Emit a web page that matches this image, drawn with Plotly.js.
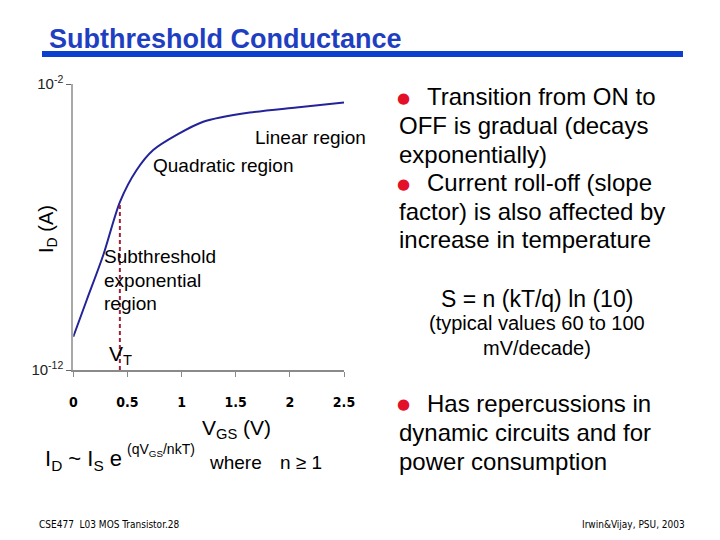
<!DOCTYPE html>
<html>
<head>
<meta charset="utf-8">
<script src="https://cdn.plot.ly/plotly-3.0.1.min.js"></script>
<style>html,body{margin:0;padding:0;background:#fff;}#chart{width:720px;height:540px;}</style>
</head>
<body>
<div id="chart"></div>
<script>
// ---- data ----
const vgs = [0, 0.124, 0.277, 0.431, 0.585, 0.738, 0.954, 1.20, 1.63, 2.06, 2.5];
const idAmps = [1.45e-11, 2.8e-10, 1.05e-8, 7.6e-7, 9.8e-6, 4.9e-5, 1.66e-4, 4.8e-4, 1.0e-3, 1.51e-3, 2.24e-3];
const vtX = [0.43, 0.43];
const vtY = [1e-12, 7.6e-7];
const xTickVals = [0, 0.5, 1, 1.5, 2, 2.5];
const xTickText = ['0', '0.5', '1', '1.5', '2', '2.5'];
const yTickVals = [1e-12, 1e-2];
const yTickText = ['10<sup>-12</sup>', '10<sup>-2</sup>'];
const titleText = 'Subthreshold Conductance';
const bulletLines = [
  'Transition from ON to', 'OFF is gradual (decays', 'exponentially)',
  'Current roll-off (slope', 'factor) is also affected by', 'increase in temperature'
];
const bottomLines = ['Has repercussions in', 'dynamic circuits and for', 'power consumption'];

const W = 720, H = 540;
const FONT = 'Arial, "Liberation Sans", sans-serif';
const NARROW = '"Liberation Sans Narrow", "Arial Narrow", "DejaVu Sans Condensed", sans-serif';
const px = x => x / W;
const py = y => 1 - y / H;
function ann(text, x, y, size, o) {
  o = o || {};
  return {
    text: text, xref: 'paper', yref: 'paper', x: px(x), y: py(y),
    xanchor: o.xa || 'left', yanchor: 'middle', showarrow: false,
    textangle: o.angle || 0,
    font: {family: o.family || FONT, size: size, color: o.color || '#000', weight: o.weight || 'normal'}
  };
}

const RED = '#e3102a';
const annotations = [
  ann(titleText, 47, 39, 27, {weight: 'bold', color: '#1f3fc2'}),
  // right side text
  ann('●', 403, 98, 15, {xa: 'center', color: RED, family: '"DejaVu Sans", sans-serif'}),
  ann(bulletLines[0], 425, 97, 24),
  ann(bulletLines[1], 397, 125, 24),
  ann(bulletLines[2], 397, 154, 24),
  ann('●', 403, 184, 15, {xa: 'center', color: RED, family: '"DejaVu Sans", sans-serif'}),
  ann(bulletLines[3], 425, 182, 24),
  ann(bulletLines[4], 397, 211, 24),
  ann(bulletLines[5], 397, 239, 24),
  ann('S = n (kT/q) ln (10)', 537, 299, 23, {xa: 'center'}),
  ann('(typical values 60 to 100', 537, 323, 20, {xa: 'center'}),
  ann('mV/decade)', 537, 348, 20, {xa: 'center'}),
  ann('●', 403, 404, 15, {xa: 'center', color: RED, family: '"DejaVu Sans", sans-serif'}),
  ann(bottomLines[0], 425, 403, 24),
  ann(bottomLines[1], 397, 432, 24),
  ann(bottomLines[2], 397, 461, 24),
  // in-plot labels
  ann('Linear region', 368, 137, 19, {xa: 'right'}),
  ann('Quadratic region', 151, 165, 19),
  ann('Subthreshold', 102, 257, 19),
  ann('exponential', 102, 280, 19),
  ann('region', 102, 303, 19),
  ann('V<sub>T</sub>', 107, 355, 21),
  // axis titles
  ann('V<sub>GS</sub> (V)', 236, 429, 21, {xa: 'center'}),
  ann('I<sub>D</sub> (A)', 47, 229, 20, {xa: 'center', angle: -90}),
  // formula
  ann('I<sub>D</sub> ~ I<sub>S</sub> e', 43, 460, 22),
  ann('(qV<sub>GS</sub>/nkT)', 125, 450, 14),
  ann('where', 207, 462, 19),
  ann('n ≥ 1', 278, 462, 19),
  // footer
  ann('CSE477  L03 MOS Transistor.28', 37, 524, 10, {family: NARROW}),
  ann('Irwin&amp;Vijay, PSU, 2003', 687, 524, 10, {xa: 'right', family: NARROW})
];

const traces = [
  {x: vgs, y: idAmps, type: 'scatter', mode: 'lines',
   line: {color: '#23239a', width: 2, shape: 'spline', smoothing: 0.8}, hoverinfo: 'skip', cliponaxis: false},
  {x: vtX, y: vtY, type: 'scatter', mode: 'lines',
   line: {color: '#9c2238', width: 2, dash: '4px,3px'}, hoverinfo: 'skip', cliponaxis: false}
];

const layout = {
  width: W, height: H,
  margin: {l: 0, r: 0, t: 0, b: 0},
  paper_bgcolor: '#fff', plot_bgcolor: 'rgba(0,0,0,0)',
  showlegend: false,
  xaxis: {
    domain: [73.3 / W, 344 / W], range: [0, 2.5],
    showgrid: false, zeroline: false, showline: true, linecolor: '#8a8a8a', linewidth: 1.5,
    ticks: 'outside', ticklen: 5, tickcolor: '#8a8a8a', tickwidth: 1,
    tickvals: xTickVals, ticktext: xTickText, ticklabelstandoff: 14,
    tickfont: {family: NARROW, size: 14, color: '#000', weight: 'bold'}
  },
  yaxis: {
    domain: [1 - 370 / H, 1 - 84 / H], type: 'log', range: [-12, -2],
    showgrid: false, zeroline: false, showline: true, linecolor: '#a8a8a8', linewidth: 2,
    ticks: 'outside', ticklen: 5, tickcolor: '#666', tickwidth: 1,
    tickvals: yTickVals, ticktext: yTickText,
    tickfont: {family: FONT, size: 15, color: '#222'}
  },
  shapes: [
    {type: 'rect', xref: 'paper', yref: 'paper', x0: px(42), x1: px(683), y0: py(57), y1: py(51),
     fillcolor: '#0d3fcf', line: {width: 0}}
  ],
  annotations: annotations
};

Plotly.newPlot('chart', traces, layout, {displayModeBar: false, staticPlot: true});
</script>
</body>
</html>
